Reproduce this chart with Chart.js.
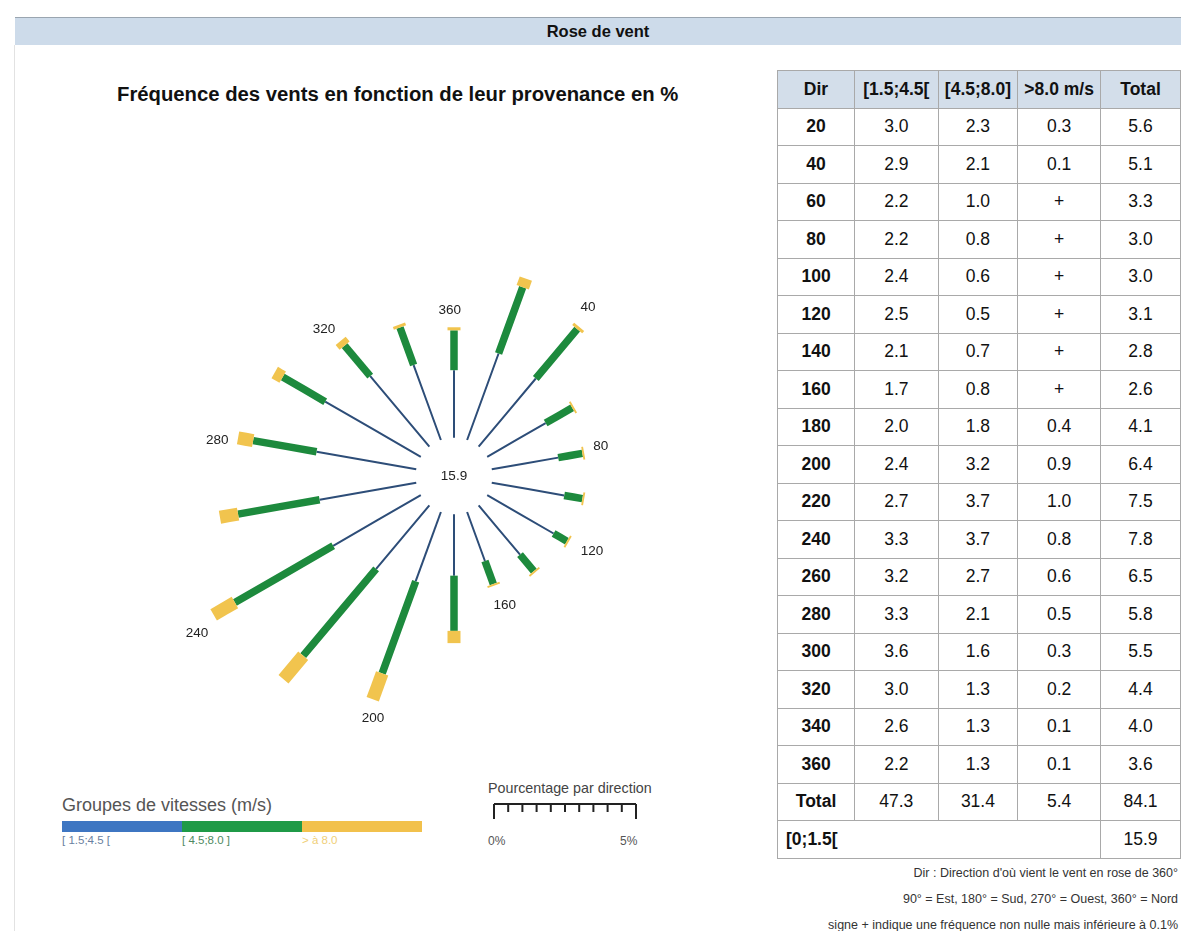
<!DOCTYPE html>
<html>
<head>
<meta charset="utf-8">
<script src="https://cdn.jsdelivr.net/npm/chart.js@4.4.1/dist/chart.umd.min.js"></script>
<style>
  body { margin: 0; background: #fff; font-family: "Liberation Sans", Arial, sans-serif; width: 1181px; height: 931px; overflow: hidden; position: relative; }
  .header { position: absolute; left: 15px; top: 17px; width: 1166px; height: 27px; background: #cddbea; border-top: 1px solid #9aa5b0; text-align: center; font-weight: bold; font-size: 16.5px; line-height: 27px; color: #111; }
  .leftline { position: absolute; left: 14px; top: 45px; width: 1px; height: 886px; background: #e2e2e2; }
  .title { position: absolute; left: 117px; top: 83px; font-size: 20.3px; font-weight: bold; color: #111; }
  #roseWrap { position: absolute; left: 178px; top: 200px; width: 552px; height: 552px; }
  table { position: absolute; left: 777px; top: 70px; border-collapse: collapse; font-size: 17.5px; color: #111; }
  td, th { border: 1px solid #a9a9a9; height: 36.5px; padding: 0; text-align: center; }
  th { background: #d3deea; font-weight: bold; }
  td.dir { font-weight: bold; }
  td.calm { text-align: left; padding-left: 8px; font-weight: bold; }
  .notes { position: absolute; right: 3px; top: 860px; text-align: right; font-size: 12.5px; color: #333; line-height: 26px; white-space: nowrap; }
  .legTitle { position: absolute; left: 62px; top: 795px; font-size: 18px; color: #555; }
  .bar { position: absolute; top: 821px; height: 11px; width: 120px; }
  .legLab { position: absolute; top: 834px; font-size: 11.5px; }
  .scaleTitle { position: absolute; left: 488px; top: 780px; font-size: 14.3px; color: #444; }
  #scale { position: absolute; left: 493px; top: 803px; width: 144px; height: 16px; }
  .pct { position: absolute; top: 834px; font-size: 12px; color: #555; }
</style>
</head>
<body>
<div class="header">Rose de vent</div>
<div class="leftline"></div>
<div class="title">Fréquence des vents en fonction de leur provenance en %</div>
<div id="roseWrap"><canvas id="rose" width="552" height="552"></canvas></div>
<table id="tbl"></table>
<div class="notes">
  <div>Dir : Direction d'où vient le vent en rose de 360°</div>
  <div>90° = Est, 180° = Sud, 270° = Ouest, 360° = Nord</div>
  <div>signe + indique une fréquence non nulle mais inférieure à 0.1%</div>
</div>
<div class="legTitle">Groupes de vitesses (m/s)</div>
<div class="bar" style="left:62px;background:#3e76c2"></div>
<div class="bar" style="left:182px;background:#1f9a47"></div>
<div class="bar" style="left:302px;background:#f2c14c"></div>
<div class="legLab" style="left:62px;color:#6a7fa0">[ 1.5;4.5 [</div>
<div class="legLab" style="left:182px;color:#4f8a5f">[ 4.5;8.0 ]</div>
<div class="legLab" style="left:302px;color:#f0cf78">&gt; à 8.0</div>
<div class="scaleTitle">Pourcentage par direction</div>
<canvas id="scale" width="144" height="16"></canvas>
<div class="pct" style="left:488px">0%</div>
<div class="pct" style="left:620px">5%</div>
<script>
var directions = [20, 40, 60, 80, 100, 120, 140, 160, 180, 200, 220, 240, 260, 280, 300, 320, 340, 360];
var slowWind = [3.0, 2.9, 2.2, 2.2, 2.4, 2.5, 2.1, 1.7, 2.0, 2.4, 2.7, 3.3, 3.2, 3.3, 3.6, 3.0, 2.6, 2.2];
var mediumWind = [2.3, 2.1, 1.0, 0.8, 0.6, 0.5, 0.7, 0.8, 1.8, 3.2, 3.7, 3.7, 2.7, 2.1, 1.6, 1.3, 1.3, 1.3];
var fastWind = [0.3, 0.1, '+', '+', '+', '+', '+', '+', 0.4, 0.9, 1.0, 0.8, 0.6, 0.5, 0.3, 0.2, 0.1, 0.1];
var totals = [5.6, 5.1, 3.3, 3.0, 3.0, 3.1, 2.8, 2.6, 4.1, 6.4, 7.5, 7.8, 6.5, 5.8, 5.5, 4.4, 4.0, 3.6];
var columnTotals = [47.3, 31.4, 5.4, 84.1];
var calmPercent = 15.9;
var labelledDirections = [40, 80, 120, 160, 200, 240, 280, 320, 360];
var headers = ['Dir', '[1.5;4.5[', '[4.5;8.0]', '>8.0 m/s', 'Total'];

var innerRadius = 1.25;   // empty circle for calm winds
var plusValue = 0.06;     // "+" : non nul mais < 0.1

var fmt = function(v) { return typeof v === 'number' ? v.toFixed(1) : v; };

// table
var tbl = document.getElementById('tbl');
var html = '<tr>' + headers.map(function(h, i) {
  var w = [77, 83, 79, 83, 80][i];
  return '<th style="width:' + w + 'px">' + h + '</th>';
}).join('') + '</tr>';
for (var i = 0; i < directions.length; i++) {
  html += '<tr><td class="dir">' + directions[i] + '</td><td>' + fmt(slowWind[i]) + '</td><td>' +
          fmt(mediumWind[i]) + '</td><td>' + fmt(fastWind[i]) + '</td><td>' + fmt(totals[i]) + '</td></tr>';
}
html += '<tr><td class="dir">Total</td>' + columnTotals.map(function(v) {
  return '<td>' + fmt(v) + '</td>';
}).join('') + '</tr>';
html += '<tr><td class="calm" colspan="4">[0;1.5[</td><td>' + fmt(calmPercent) + '</td></tr>';
tbl.innerHTML = html;

// polar -> cartesian, 0 = north, clockwise
var toXY = function(dir, r) {
  var a = dir * Math.PI / 180;
  return {x: r * Math.sin(a), y: r * Math.cos(a)};
};

var segments = [
  {values: slowWind, color: '#2d4d78', width: 2},
  {values: mediumWind, color: '#1d8a3d', width: 7.5},
  {values: fastWind, color: '#f1c44e', width: 13}
];

var datasets = [];
directions.forEach(function(dir, i) {
  var r = innerRadius;
  segments.forEach(function(seg, s) {
    var v = seg.values[i] === '+' ? plusValue : seg.values[i];
    datasets.push({
      data: [toXY(dir, r), toXY(dir, r + v)],
      showLine: true,
      tension: 0.0001,  // avoids the fast path that merges close points
      borderColor: seg.color,
      borderWidth: seg.width,
      borderCapStyle: 'butt',
      pointRadius: 0,
      order: 3 - s
    });
    r += v;
  });
});

var roseLabels = {
  id: 'roseLabels',
  afterDatasetsDraw: function(chart) {
    var ctx = chart.ctx, xs = chart.scales.x, ys = chart.scales.y;
    ctx.save();
    ctx.fillStyle = '#222';
    ctx.textAlign = 'center';
    ctx.textBaseline = 'middle';
    ctx.font = '13.5px "Liberation Sans", Arial, sans-serif';
    ctx.fillText(fmt(calmPercent), xs.getPixelForValue(0), ys.getPixelForValue(0));
    var unit = xs.getPixelForValue(1) - xs.getPixelForValue(0);
    labelledDirections.forEach(function(dir) {
      var i = directions.indexOf(dir);
      var a = dir * Math.PI / 180;
      var w = ctx.measureText(String(dir)).width;
      var extra = (11 + w / 2 * Math.abs(Math.sin(a)) + 6 * Math.abs(Math.cos(a))) / unit;
      var p = toXY(dir - 1.5, innerRadius + totals[i] + extra);
      ctx.fillText(String(dir), xs.getPixelForValue(p.x), ys.getPixelForValue(p.y));
    });
    ctx.restore();
  }
};

new Chart(document.getElementById('rose'), {
  type: 'scatter',
  data: {datasets: datasets},
  options: {
    responsive: false,
    animation: false,
    devicePixelRatio: 1,
    layout: {padding: 0, autoPadding: false},
    plugins: {legend: {display: false}, tooltip: {enabled: false}},
    scales: {
      x: {type: 'linear', min: -9, max: 9, display: false},
      y: {type: 'linear', min: -9, max: 9, display: false}
    }
  },
  plugins: [roseLabels]
});

// scale bar 0..5 %
var sc = document.getElementById('scale').getContext('2d');
sc.strokeStyle = '#222';
sc.lineWidth = 2;
sc.beginPath();
sc.moveTo(1, 1); sc.lineTo(143, 1);
for (var t = 0; t <= 10; t++) {
  var x = 1 + t * 14.2;
  sc.moveTo(x, 1);
  sc.lineTo(x, (t === 0 || t === 10) ? 16 : 9);
}
sc.stroke();
</script>
</body>
</html>
